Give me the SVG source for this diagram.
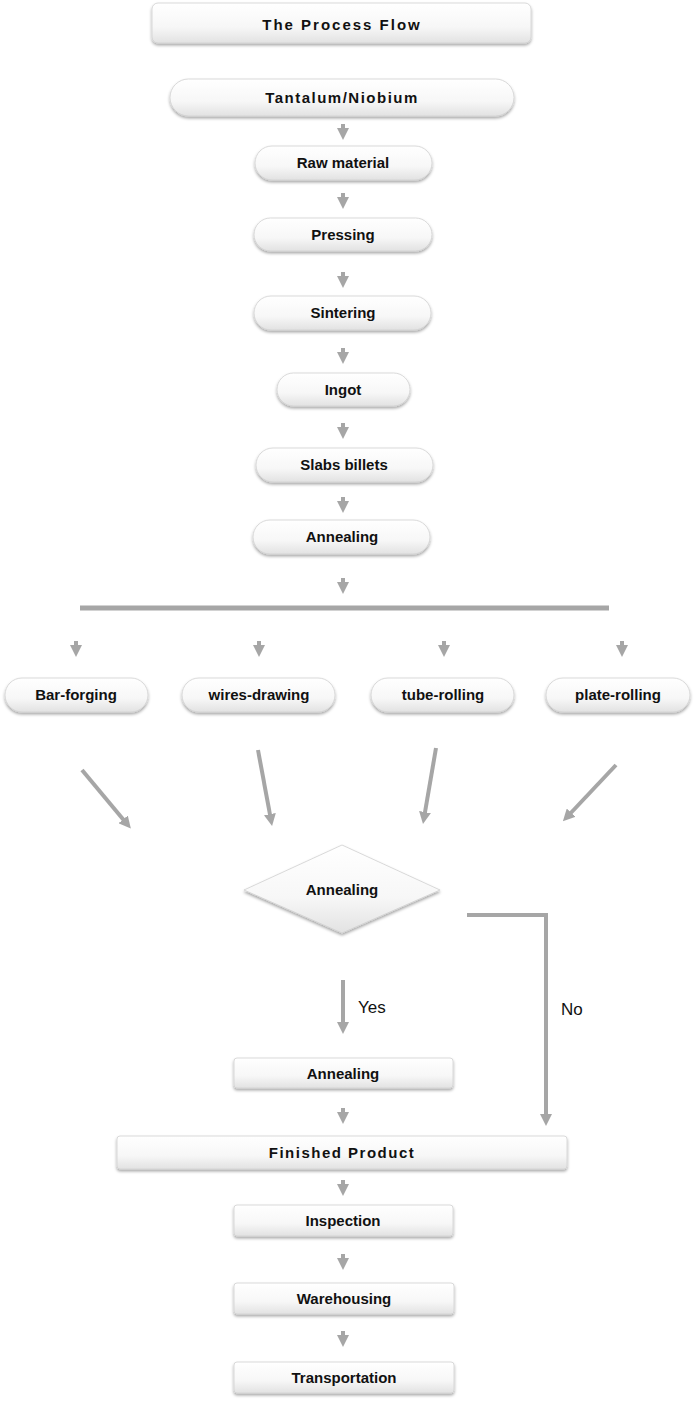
<svg xmlns="http://www.w3.org/2000/svg" width="695" height="1401" viewBox="0 0 695 1401">
<defs>
<linearGradient id="g" x1="0" y1="0" x2="0" y2="1"><stop offset="0" stop-color="#ffffff"/><stop offset="0.6" stop-color="#f7f7f7"/><stop offset="1" stop-color="#e2e2e2"/></linearGradient>
<filter id="sh" x="-10%" y="-30%" width="120%" height="170%"><feDropShadow dx="0" dy="2" stdDeviation="1.5" flood-color="#000" flood-opacity="0.35"/></filter>
<marker id="ah" markerWidth="3" markerHeight="3" refX="1.5" refY="1.5" orient="auto" markerUnits="strokeWidth"><path d="M0,0 L3,1.5 L0,3 Z" fill="#a6a6a6"/></marker>
</defs>
<style>
.n{fill:url(#g);stroke:#d0d0d0;stroke-width:0.8;filter:url(#sh)}
.t{font-family:"Liberation Sans",Arial,sans-serif;font-weight:bold;font-size:15px;text-anchor:middle;fill:#111}
.w{letter-spacing:2px}
.c{stroke:#a6a6a6;fill:none}
.s{stroke-width:4;marker-end:url(#ah)}
.l{font-family:"Liberation Sans",Arial,sans-serif;font-size:17px;fill:#111}
</style>
<rect width="695" height="1401" fill="#fff"/>
<g id="connectors">
<g class="c s">
<path d="M343,124V134"/><path d="M343,193V203"/><path d="M343,272V282"/><path d="M343,348V358"/><path d="M343,423V433"/><path d="M343,497V507"/><path d="M343,578V588"/>
<path d="M76,641V651"/><path d="M259,641V651"/><path d="M444,641V651"/><path d="M622,641V651"/>
<path d="M82,770L127,824"/><path d="M258,750L271,820"/><path d="M436,748L424,818"/><path d="M616,765L567,817"/>
<path d="M343,980V1028"/><path d="M467,915H546V1120"/>
<path d="M343,1108V1118"/><path d="M343,1180V1190"/><path d="M343,1254V1264"/><path d="M343,1331V1341"/>
</g>
<path class="c" d="M80,608H609" stroke-width="5"/>
<text class="l" x="358" y="1013">Yes</text>
<text class="l" x="561" y="1015">No</text>
</g>
<g id="title"><rect class="n" x="152" y="3" width="379" height="40" rx="6"/><text class="t w" x="342" y="30" font-size="17">The Process Flow</text></g>
<g id="tantalum"><rect class="n" x="170" y="79" width="344" height="37" rx="18.5"/><text class="t w" x="342" y="103" style="letter-spacing:1.5px">Tantalum/Niobium</text></g>
<g id="raw"><rect class="n" x="255" y="146" width="177" height="34" rx="17"/><text class="t" x="343" y="168">Raw material</text></g>
<g id="pressing"><rect class="n" x="254" y="218" width="178" height="33" rx="16.5"/><text class="t" x="343" y="240">Pressing</text></g>
<g id="sintering"><rect class="n" x="254" y="296" width="177" height="34" rx="17"/><text class="t" x="343" y="318">Sintering</text></g>
<g id="ingot"><rect class="n" x="277" y="373" width="133" height="33" rx="16.5"/><text class="t" x="343" y="395">Ingot</text></g>
<g id="slabs"><rect class="n" x="256" y="448" width="177" height="34" rx="17"/><text class="t" x="344" y="470">Slabs billets</text></g>
<g id="annealing1"><rect class="n" x="253" y="520" width="177" height="34" rx="17"/><text class="t" x="342" y="542">Annealing</text></g>
<g id="bar"><rect class="n" x="5" y="678" width="143" height="34" rx="17"/><text class="t" x="76" y="700">Bar-forging</text></g>
<g id="wires"><rect class="n" x="182" y="678" width="153" height="34" rx="17"/><text class="t" x="259" y="700">wires-drawing</text></g>
<g id="tube"><rect class="n" x="371" y="678" width="143" height="34" rx="17"/><text class="t" x="443" y="700">tube-rolling</text></g>
<g id="plate"><rect class="n" x="546" y="678" width="144" height="34" rx="17"/><text class="t" x="618" y="700">plate-rolling</text></g>
<g id="decision"><path class="n" d="M342,845L440,890L342,933L244,890Z"/><text class="t" x="342" y="895">Annealing</text></g>
<g id="annealing2"><rect class="n" x="234" y="1058" width="219" height="30" rx="3"/><text class="t" x="343" y="1079">Annealing</text></g>
<g id="finished"><rect class="n" x="117" y="1136" width="450" height="33" rx="3"/><text class="t" x="342" y="1158" style="letter-spacing:1.5px">Finished Product</text></g>
<g id="inspection"><rect class="n" x="234" y="1205" width="219" height="31" rx="3"/><text class="t" x="343" y="1226">Inspection</text></g>
<g id="warehousing"><rect class="n" x="234" y="1283" width="220" height="31" rx="3"/><text class="t" x="344" y="1304">Warehousing</text></g>
<g id="transportation"><rect class="n" x="234" y="1362" width="220" height="31" rx="3"/><text class="t" x="344" y="1383">Transportation</text></g>
</svg>
